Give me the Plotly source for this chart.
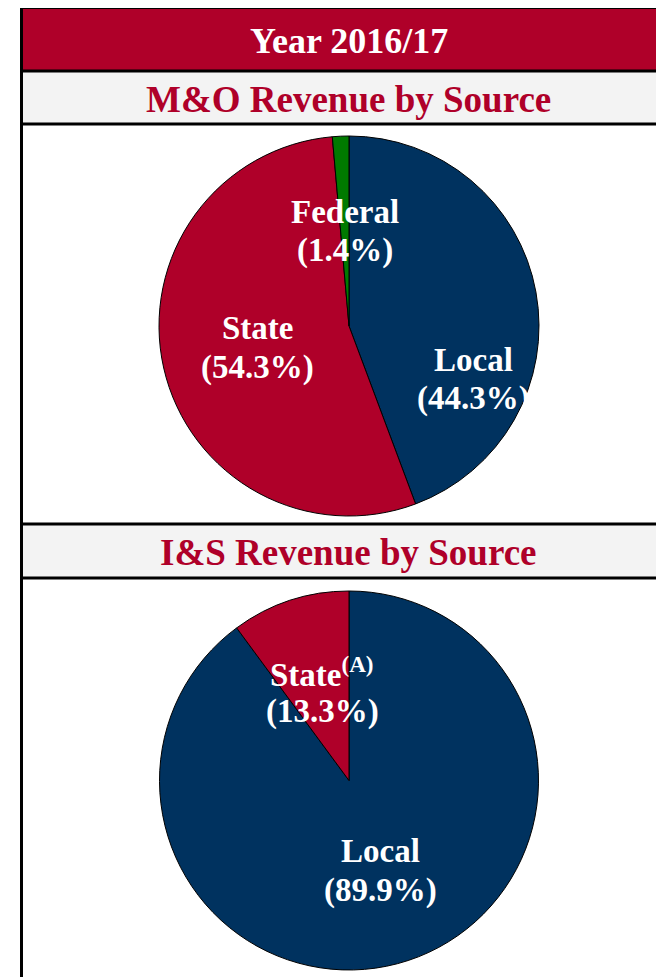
import plotly.graph_objects as go

# data
header_text = "Year 2016/17"
mo_title = "M&O Revenue by Source"
is_title = "I&S Revenue by Source"

mo_labels = ["Local", "State", "Federal"]
mo_values = [44.3, 54.3, 1.4]
mo_pct = ["44.3%", "54.3%", "1.4%"]

is_labels = ["Local", "State<sup>(A)</sup>"]
is_values = [89.9, 10.1]
is_pct = ["89.9%", "13.3%"]

RED = "#AF0029"
NAVY = "#00325F"
GREEN = "#007A00"
GRAY = "#F3F3F3"
FONT = "Liberation Serif"

# the page body has an 8px margin; the figure runs past the window and is clipped
OFF = 8
W, H = 664, 977


def px(x):
    return (x - OFF) / W


def py(y):
    return 1 - (y - OFF) / H


fig = go.Figure()

fig.add_trace(go.Pie(
    labels=mo_labels, values=mo_values, sort=False, direction="clockwise", rotation=0,
    marker=dict(colors=[NAVY, RED, GREEN], line=dict(color="black", width=1)),
    textinfo="none", hoverinfo="label+percent", showlegend=False,
    domain=dict(x=[px(159), px(539)], y=[py(516), py(136)]),
))
fig.add_trace(go.Pie(
    labels=is_labels, values=is_values, sort=False, direction="clockwise", rotation=0,
    marker=dict(colors=[NAVY, RED], line=dict(color="black", width=1)),
    textinfo="none", hoverinfo="label+percent", showlegend=False,
    domain=dict(x=[px(159), px(539)], y=[py(970), py(591)]),
))

shapes = []
# bands
for y0, y1, col in [(8, 71, RED), (71, 124, GRAY), (524, 578, GRAY)]:
    shapes.append(dict(type="rect", xref="paper", yref="paper", x0=px(21), x1=1.0,
                       y0=py(y1), y1=py(y0), fillcolor=col, line=dict(width=0), layer="below"))
# horizontal rules
for y in [8, 71, 124, 524, 578]:
    shapes.append(dict(type="line", xref="paper", yref="paper", x0=px(21), x1=1.0,
                       y0=py(y), y1=py(y), line=dict(color="black", width=3 if y != 8 else 2)))
# left rule
shapes.append(dict(type="line", xref="paper", yref="paper", x0=px(21.5), x1=px(21.5),
                   y0=py(7), y1=0, line=dict(color="black", width=3)))

annotations = [
    dict(text=header_text, x=px(349), y=py(41), font=dict(color="white", size=36)),
    dict(text=mo_title, x=px(349), y=py(99), font=dict(color=RED, size=37)),
    dict(text=is_title, x=px(349), y=py(552), font=dict(color=RED, size=37)),
]

# slice labels: name line and percent line, each placed by hand
mo_pos = {"Local": (474, 360, 398), "State": (257, 328, 367), "Federal": (345, 212, 250)}
for lab, pct in zip(mo_labels, mo_pct):
    x, y1, y2 = mo_pos[lab]
    annotations.append(dict(text=lab, x=px(x), y=py(y1), font=dict(color="white", size=33)))
    annotations.append(dict(text=f"({pct})", x=px(x), y=py(y2), font=dict(color="white", size=33)))

is_pos = [(380, 851, 890), (322, 672, 711)]
for lab, pct, (x, y1, y2) in zip(is_labels, is_pct, is_pos):
    annotations.append(dict(text=lab, x=px(x), y=py(y1), font=dict(color="white", size=33)))
    annotations.append(dict(text=f"({pct})", x=px(x), y=py(y2), font=dict(color="white", size=33)))

for a in annotations:
    a.update(xref="paper", yref="paper", showarrow=False, xanchor="center", yanchor="middle")
    a["font"]["family"] = FONT
    a["text"] = f"<b>{a['text']}</b>"

fig.update_layout(
    width=W, height=H, margin=dict(l=0, r=0, t=0, b=0),
    paper_bgcolor="white", plot_bgcolor="white",
    shapes=shapes, annotations=annotations,
    font=dict(family=FONT),
)

fig.write_html("out.html", post_script="document.body.style.overflow='hidden';")
